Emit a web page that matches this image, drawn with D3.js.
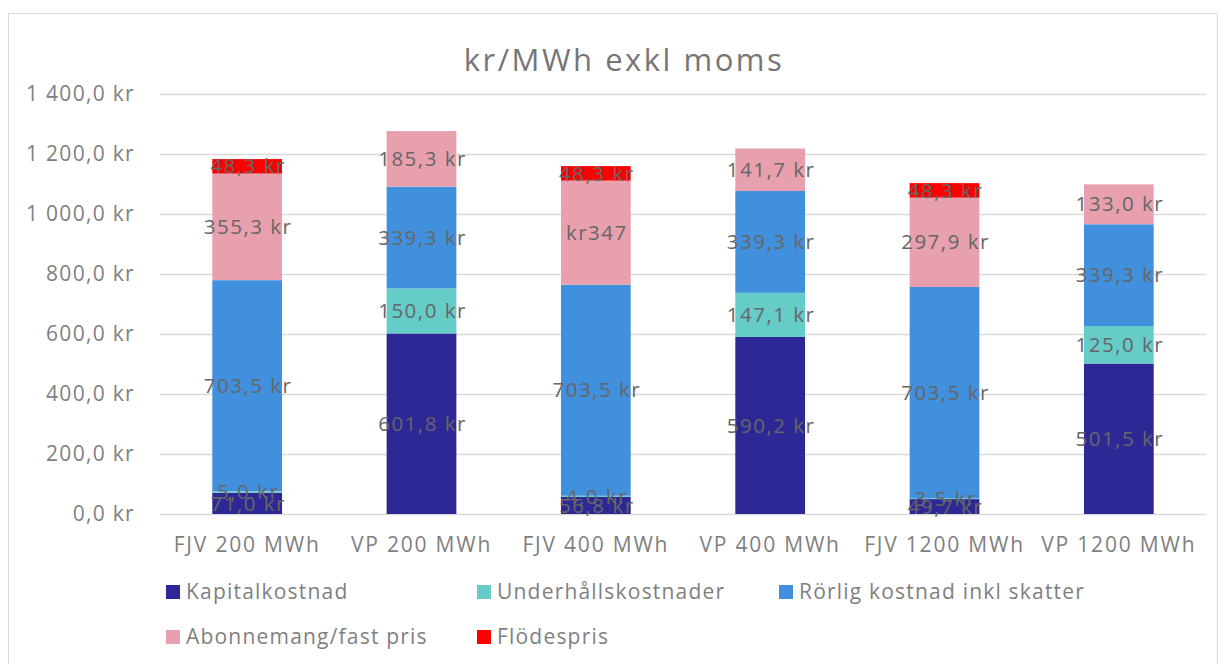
<!DOCTYPE html>
<html>
<head>
<meta charset="utf-8">
<script src="https://cdn.jsdelivr.net/npm/d3@7"></script>
<style>
  body { margin: 0; background: #fff; }
  text { font-family: "Open Sans", Roboto, sans-serif; }
</style>
</head>
<body>
<div id="chart"></div>
<script>
var width = 1225,
    height = 664;

// Data
var categories = ["FJV 200 MWh", "VP 200 MWh", "FJV 400 MWh", "VP 400 MWh", "FJV 1200 MWh", "VP 1200 MWh"];
var seriesNames = ["Kapitalkostnad", "Underhållskostnader", "Rörlig kostnad inkl skatter", "Abonnemang/fast pris", "Flödespris"];
var kapital     = [71.0, 601.8, 56.8, 590.2, 49.7, 501.5];
var underhall   = [5.0, 150.0, 4.0, 147.1, 3.5, 125.0];
var rorlig      = [703.5, 339.3, 703.5, 339.3, 703.5, 339.3];
var abonnemang  = [355.3, 185.3, 347.0, 141.7, 297.9, 133.0];
var flodespris  = [48.3, 0, 48.3, 0, 48.3, 0];
var yTicks = [0, 200, 400, 600, 800, 1000, 1200, 1400];
var colors = ["#2e2896", "#66ccc8", "#4190dd", "#e8a0af", "#ff0000"];
// one label in the original is written differently
var labelOverride = { "2|3": "kr347" };

var seriesValues = [kapital, underhall, rorlig, abonnemang, flodespris];

var table = categories.map(function(c, i) {
  var row = { cat: c };
  seriesNames.forEach(function(s, k) { row[s] = seriesValues[k][i]; });
  return row;
});
var stacked = d3.stack().keys(seriesNames)(table);

var svg = d3.select("#chart")
  .append("svg")
  .attr("width", width)
  .attr("height", height);

// chart border
svg.append("rect")
  .attr("x", 8.5).attr("y", 13.5)
  .attr("width", 1209).attr("height", 670)
  .attr("fill", "none")
  .attr("stroke", "#d9d9d9");

// Title
svg.append("text")
  .attr("x", 624).attr("y", 71)
  .attr("text-anchor", "middle")
  .attr("font-size", 31)
  .attr("letter-spacing", 2.5)
  .attr("fill", "#767676")
  .text("kr/MWh exkl moms");

// Scales
var x = d3.scaleBand()
  .domain(categories)
  .range([160, 1206])
  .paddingInner(0.6)
  .paddingOuter(0.3);

var y = d3.scaleLinear()
  .domain([0, 1400])
  .range([514, 94]);

var sv = d3.formatLocale({ decimal: ",", thousands: "\u2009", grouping: [3], currency: ["", " kr"] });
var fmt = function(v) { return sv.format(",.1f")(v).replace("\u2009", " ") + " kr"; };

// Grid
svg.append("g")
  .selectAll("line")
  .data(yTicks)
  .enter()
  .append("line")
  .attr("x1", 160).attr("x2", 1206)
  .attr("y1", function(d) { return Math.round(y(d)) + 0.5; })
  .attr("y2", function(d) { return Math.round(y(d)) + 0.5; })
  .attr("stroke", "#d9d9d9")
  .attr("stroke-width", 1.5);

// Y axis
var yAxis = svg.append("g")
  .attr("transform", "translate(138,0)")
  .call(d3.axisLeft(y).tickValues(yTicks).tickSize(0).tickFormat(fmt));
yAxis.select(".domain").remove();
yAxis.selectAll("text")
  .attr("font-size", 21)
  .attr("letter-spacing", 1.3)
  .attr("fill", "#7f7f7f")
  .attr("font-family", "Open Sans, Roboto, sans-serif");

// X axis labels
var xAxis = svg.append("g")
  .attr("transform", "translate(0,514)")
  .call(d3.axisBottom(x).tickSize(0).tickPadding(23));
xAxis.select(".domain").remove();
xAxis.selectAll("text")
  .attr("font-size", 21)
  .attr("letter-spacing", 1.8)
  .attr("fill", "#7f7f7f")
  .attr("font-family", "Open Sans, Roboto, sans-serif");

// Bars
var layers = svg.append("g")
  .selectAll("g")
  .data(stacked)
  .enter()
  .append("g")
  .attr("fill", function(d, k) { return colors[k]; });

layers.selectAll("rect")
  .data(function(d) { return d; })
  .enter()
  .append("rect")
  .attr("x", function(d) { return x(d.data.cat); })
  .attr("width", x.bandwidth())
  .attr("y", function(d) { return y(d[1]); })
  .attr("height", function(d) { return y(d[0]) - y(d[1]); });

// Data labels
var labels = svg.append("g");
stacked.forEach(function(layer, k) {
  layer.forEach(function(d, i) {
    var v = d[1] - d[0];
    if (v <= 0) return;
    labels.append("text")
      .attr("x", x(d.data.cat) + x.bandwidth() / 2 + 1)
      .attr("y", y((d[0] + d[1]) / 2))
      .attr("dy", "0.35em")
      .attr("text-anchor", "middle")
      .attr("font-size", 20.5)
      .attr("letter-spacing", 1.5)
      .attr("fill", "#666666")
      .text(labelOverride[i + "|" + k] || fmt(v));
  });
});

// Legend
var legendPos = [[166, 592], [477, 592], [779, 592], [166, 637], [477, 637]];
var legend = svg.append("g")
  .selectAll("g")
  .data(seriesNames)
  .enter()
  .append("g")
  .attr("transform", function(d, k) { return "translate(" + legendPos[k][0] + "," + legendPos[k][1] + ")"; });
legend.append("rect")
  .attr("x", 0).attr("y", -7)
  .attr("width", 14).attr("height", 14)
  .attr("fill", function(d, k) { return colors[k]; });
legend.append("text")
  .attr("x", 20).attr("dy", "0.35em")
  .attr("font-size", 21)
  .attr("letter-spacing", 1.2)
  .attr("fill", "#7f7f7f")
  .text(function(d) { return d; });
</script>
</body>
</html>
